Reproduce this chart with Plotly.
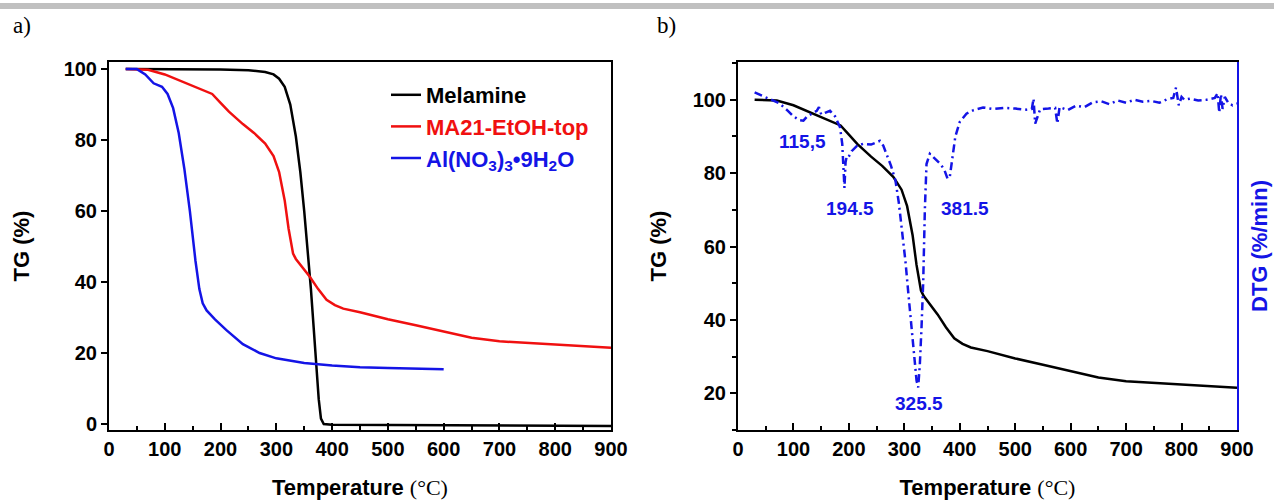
import plotly.graph_objects as go

# ---------------- data ----------------
# Panel a) TG curves
mel_T = [30, 100, 200, 250, 280, 295, 305, 315, 325, 335, 343, 350, 356, 362, 367, 372, 376, 380, 385, 400, 500, 600, 700, 800, 900]
mel_v = [100, 100, 99.9, 99.7, 99.2, 98.5, 97.3, 95, 90, 81, 71, 60, 50, 38, 27, 16, 7, 1.5, 0, -0.2, -0.3, -0.4, -0.5, -0.6, -0.6]

ma_T = [30, 50, 70, 100, 130, 160, 185, 200, 215, 240, 260, 280, 295, 305, 315, 322, 330, 335, 345, 360, 375, 390, 405, 420, 450, 500, 550, 600, 650, 700, 750, 800, 850, 900]
ma_v = [100, 100, 99.8, 98.5, 96.5, 94.5, 93, 90.5, 88, 84.5, 82, 79, 75.5, 71, 63, 55, 48, 46.5, 44.5, 41.5, 38, 35, 33.5, 32.5, 31.5, 29.5, 27.8, 26, 24.3, 23.3, 22.8, 22.3, 22, 21.5]

al_T = [30, 50, 65, 80, 95, 105, 115, 125, 135, 145, 155, 162, 168, 175, 190, 210, 240, 270, 300, 350, 400, 450, 500, 550, 600]
al_v = [100, 100, 98.5, 96, 95, 93, 89, 82, 72, 60, 46, 38, 34, 32, 29.5, 26.5, 22.5, 20, 18.5, 17.2, 16.5, 16, 15.8, 15.6, 15.4]

# Panel b) DTG curve (drawn on the TG scale, right axis unlabelled)
dtg_T = [30, 45, 60, 75, 90, 100, 110, 118, 125, 135, 142, 146, 150, 158, 166, 175, 184, 188, 190, 192,
         194, 196, 199, 205, 215, 226, 240, 256, 262, 268, 276, 284, 290, 296, 302, 308, 314, 318, 322, 325,
         328, 331, 334, 337, 340, 346, 355, 365, 372, 378, 382, 386, 392, 400, 412, 425, 442, 460, 480, 500,
         520, 530, 533, 536, 545, 560, 572, 576, 580, 595, 610, 625, 640, 655, 670, 685, 700, 715, 730, 745,
         760, 775, 785, 790, 795, 800, 805, 815, 830, 845, 860, 865, 868, 871, 874, 878, 885, 892, 900]
dtg_v = [102, 101, 100, 99, 97, 95.5, 94.5, 94.3, 95.5, 96.5, 97, 98, 96, 96.5, 97, 95.5, 92.5, 88, 82, 76,
         83, 84.5, 84.3, 86, 87.5, 88, 87.8, 88.8, 87.5, 85.3, 82, 78, 72, 64, 56, 46, 36, 28, 23.5, 21.6,
         28, 38, 50, 70, 82.5, 85.3, 84, 82.5, 81, 78.5, 79, 84, 90, 94, 96.2, 97.2, 97.9, 97.5, 97.8, 97.6,
         97.3, 97.5, 100.3, 93.5, 97.4, 97.6, 97.8, 93.5, 98, 97.2, 98.4, 98, 99.3, 99.6, 98.8, 99.8, 99.2, 100, 99.5, 99.7,
         99.2, 100.2, 100.5, 103.3, 98.5, 100.8, 100, 100.3, 99.8, 100, 100.5, 101.8, 96.5, 101.5, 97.5, 100.8, 99, 98.5, 99]
assert len(dtg_T) == len(dtg_v)

peak_T = [117, 202, 326.5, 410]
peak_v = [88.6, 70.3, 17.3, 70.3]
peak_labels = ["115,5", "194.5", "325.5", "381.5"]

x_ticks = [0, 100, 200, 300, 400, 500, 600, 700, 800, 900]
ya_ticks = [0, 20, 40, 60, 80, 100]
yb_ticks = [20, 40, 60, 80, 100]

# ---------------- styling ----------------
BLACK = "#000000"
RED = "#f01010"
BLUE = "#1414e6"
SANS = "Liberation Sans"
SERIF = "Liberation Serif"
W, H = 1274, 500

tickfont = dict(family=SANS, size=20, color=BLACK, weight="bold")
titlefont = dict(family=SANS, size=22, color=BLACK, weight="bold")
xtitle = "Temperature <span style='font-family:Liberation Serif;font-weight:normal'>(°C)</span>"

fig = go.Figure()

fig.add_trace(go.Scatter(x=mel_T, y=mel_v, mode="lines", line=dict(color=BLACK, width=2.5),
                         name="<span style='color:#000000'>Melamine</span>",
                         xaxis="x", yaxis="y"))
fig.add_trace(go.Scatter(x=ma_T, y=ma_v, mode="lines", line=dict(color=RED, width=2.5),
                         name=f"<span style='color:{RED}'>MA21-EtOH-top</span>",
                         xaxis="x", yaxis="y"))
fig.add_trace(go.Scatter(x=al_T, y=al_v, mode="lines", line=dict(color=BLUE, width=2.5),
                         name=f"<span style='color:{BLUE}'>Al(NO<sub>3</sub>)<sub>3</sub>•9H<sub>2</sub>O</span>",
                         xaxis="x", yaxis="y"))

fig.add_trace(go.Scatter(x=ma_T, y=ma_v, mode="lines", line=dict(color=BLACK, width=2.5),
                         showlegend=False, xaxis="x2", yaxis="y2"))
fig.add_trace(go.Scatter(x=dtg_T, y=dtg_v, mode="lines",
                         line=dict(color=BLUE, width=2.5, dash="8px,4px,2px,4px"),
                         showlegend=False, xaxis="x2", yaxis="y3"))

for t, v, lab in zip(peak_T, peak_v, peak_labels):
    fig.add_annotation(x=t, y=v, xref="x2", yref="y2", text=lab, showarrow=False,
                       font=dict(family=SANS, size=19, color=BLUE, weight="bold"))

dom_y = [70 / H, 438 / H]
xa = dict(range=[0, 900], tickvals=x_ticks, ticks="inside", ticklen=7, tickwidth=1.5, tickcolor=BLACK,
          minor=dict(dtick=50, ticks="inside", ticklen=4, tickwidth=1.5, tickcolor=BLACK),
          showline=True, linecolor=BLACK, linewidth=2, mirror=True, showgrid=False, zeroline=False,
          automargin=False, tickfont=tickfont, title=dict(text=xtitle, font=titlefont, standoff=22))

fig.update_layout(
    template="none",
    width=W, height=H, margin=dict(l=0, r=0, t=0, b=0, autoexpand=False),
    paper_bgcolor="white", plot_bgcolor="white",
    xaxis=dict(domain=[109 / W, 611 / W], anchor="y", **xa),
    yaxis=dict(domain=dom_y, anchor="x", range=[-1.7, 102], tickvals=ya_ticks, ticks="outside", ticklen=6,
               tickwidth=1.5, tickcolor=BLACK, showline=True, linecolor=BLACK, linewidth=2, mirror=True,
               showgrid=False, zeroline=False, automargin=False, tickfont=tickfont,
               title=dict(text="TG (%)", font=titlefont, standoff=28)),
    xaxis2=dict(domain=[738 / W, 1237 / W], anchor="y2", **xa),
    yaxis2=dict(domain=dom_y, anchor="x2", range=[10, 110.3], tickvals=yb_ticks, ticks="outside", ticklen=6,
                tickwidth=1.5, tickcolor=BLACK,
                minor=dict(dtick=10, ticks="outside", ticklen=4, tickwidth=1.5, tickcolor=BLACK),
                showline=True, linecolor=BLACK, linewidth=2, mirror=False,
                showgrid=False, zeroline=False, automargin=False, tickfont=tickfont,
                title=dict(text="TG (%)", font=titlefont, standoff=20)),
    yaxis3=dict(overlaying="y2", anchor="x2", side="right", range=[10, 110.3], showticklabels=False,
                ticks="", showline=True, linecolor=BLUE, linewidth=2, showgrid=False, zeroline=False,
                automargin=False,
                title=dict(text="DTG (%/min)", font=dict(family=SANS, size=22, color=BLUE, weight="bold"),
                           standoff=14)),
    legend=dict(x=386 / W, y=1 - 74 / H, xanchor="left", yanchor="top", bgcolor="rgba(0,0,0,0)",
                font=dict(family=SANS, size=22, weight="bold"), tracegroupgap=0),
    shapes=[dict(type="rect", xref="paper", yref="paper", x0=0, x1=1, y0=1 - 9 / H, y1=1 - 3 / H,
                 fillcolor="#c0c0c0", line=dict(width=0), layer="above")],
    annotations=list(fig.layout.annotations) + [
        dict(text="a)", x=11 / W, y=1 - 25 / H, xref="paper", yref="paper", xanchor="left",
             yanchor="middle", showarrow=False, font=dict(family=SERIF, size=23, color=BLACK)),
        dict(text="b)", x=655 / W, y=1 - 25 / H, xref="paper", yref="paper", xanchor="left",
             yanchor="middle", showarrow=False, font=dict(family=SERIF, size=23, color=BLACK)),
    ],
)

fig.write_html("out.html", post_script="document.body.style.margin='0';document.body.style.overflow='hidden';")
